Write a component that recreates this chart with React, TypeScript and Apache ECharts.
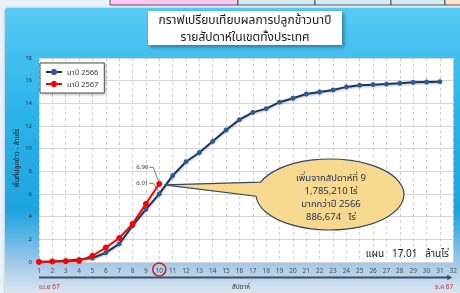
import React, { useEffect, useRef } from "react";
import * as echarts from "echarts";

const FONT = "'Noto Sans Thai', 'Noto Sans', Tahoma, sans-serif";

const titleLines = ["กราฟเปรียบเทียบผลการปลูกข้าวนาปี", "รายสัปดาห์ในเขตทั้งประเทศ"];
const seriesNames = ["นาปี 2566", "นาปี 2567"];
const weeks2566 = [1, 2, 3, 4, 5, 6, 7, 8, 9, 10, 11, 12, 13, 14, 15, 16, 17, 18, 19, 20, 21, 22, 23, 24, 25, 26, 27, 28, 29, 30, 31];
const values2566 = [0.02, 0.05, 0.1, 0.22, 0.35, 0.82, 1.6, 3.2, 4.65, 6.01, 7.62, 8.85, 9.66, 10.65, 11.65, 12.56, 13.2, 13.53, 14.1, 14.45, 14.82, 15.0, 15.18, 15.45, 15.6, 15.65, 15.7, 15.77, 15.85, 15.88, 15.91];
const weeks2567 = [1, 2, 3, 4, 5, 6, 7, 8, 9, 10];
const values2567 = [0.01, 0.05, 0.07, 0.1, 0.55, 1.27, 2.12, 3.36, 5.13, 6.9];
const labelTexts = ["6.90", "6.01"];
const calloutLines = ["เพิ่มจากสัปดาห์ที่ 9", "1,785,210 ไร่", "มากกว่าปี 2566", "886,674   ไร่"];
const planText = "แผน   17.01   ล้านไร่";
const yAxisName = "พื้นที่ปลูกข้าว - ล้านไร่";
const xAxisName = "สัปดาห์";
const startLabel = "เม.ย 67";
const endLabel = "ธ.ค 67";
const highlightWeek = 10;
const xMin = 1;
const xMax = 32;
const yMin = 0;
const yMax = 18;
const yStep = 2;

export default function App() {
  const ref = useRef<HTMLDivElement>(null);

  useEffect(() => {
    if (!ref.current) return;
    const chart = echarts.init(ref.current, null, { renderer: "svg" });

    const base: any = {
      animation: false,
      textStyle: { fontFamily: FONT },
      grid: { left: 39, right: 5, top: 58, bottom: 31, show: true, backgroundColor: "#ffffff", borderWidth: 0 },
      legend: {
        orient: "vertical",
        left: 40,
        top: 63,
        padding: [5, 6, 5, 5],
        itemWidth: 16,
        itemHeight: 8,
        itemGap: 4,
        backgroundColor: "#ffffff",
        borderColor: "#4a4a4a",
        borderWidth: 1,
        shadowBlur: 3,
        shadowColor: "rgba(0,0,0,0.3)",
        shadowOffsetX: 1,
        shadowOffsetY: 1,
        textStyle: { fontSize: 7.5, color: "#333", fontFamily: FONT },
        data: seriesNames,
      },
      xAxis: {
        type: "value",
        min: xMin,
        max: xMax,
        interval: 1,
        axisLine: { show: false },
        axisTick: { show: false },
        axisLabel: { fontSize: 6.5, color: "#4a4a4a", margin: 5 },
        splitLine: { show: true, lineStyle: { type: [3, 3], color: "#cccccc", width: 1 } },
      },
      yAxis: {
        type: "value",
        min: yMin,
        max: yMax,
        interval: yStep,
        axisLine: { show: false },
        axisTick: { show: false },
        axisLabel: { fontSize: 6, color: "#333", margin: 7 },
        splitLine: { show: true, lineStyle: { color: "#d4d4d4", width: 1 } },
      },
      series: [
        {
          name: seriesNames[0],
          type: "line",
          data: weeks2566.map((w, i) => [w, values2566[i]]),
          symbol: "circle",
          symbolSize: 5,
          lineStyle: { color: "#1d3657", width: 2, shadowBlur: 2, shadowColor: "rgba(0,0,0,0.3)", shadowOffsetY: 1 },
          itemStyle: { color: "#2d5b9a" },
          z: 2,
        },
        {
          name: seriesNames[1],
          type: "line",
          data: weeks2567.map((w, i) => [w, values2567[i]]),
          symbol: "circle",
          symbolSize: 6,
          lineStyle: { color: "#ff0000", width: 2 },
          itemStyle: { color: "#ff0000" },
          z: 3,
        },
      ],
    };
    chart.setOption(base);

    const px = (x: number, y: number) => chart.convertToPixel({ gridIndex: 0 }, [x, y]) as number[];
    const redP = px(highlightWeek, values2567[values2567.length - 1]);
    const blueP = px(highlightWeek, values2566[highlightWeek - 1]);
    const axisP = px(highlightWeek, yMin);
    const leftP = px(xMin, yMin);
    const rightP = px(xMax, yMin);

    // callout bubble
    const cx = 330, cy = 194.5, rx = 74, ry = 35.5;
    const tip = [redP[0] + 5, redP[1] + 1];
    const sA = -0.35, sB = 0.05;
    const ax = cx - rx * Math.sqrt(1 - sA * sA), ay = cy + ry * sA;
    const bx = cx - rx * Math.sqrt(1 - sB * sB), by = cy + ry * sB;
    const d = `M ${ax} ${ay} L ${tip[0]} ${tip[1]} L ${bx} ${by} A ${rx} ${ry} 0 1 0 ${ax} ${ay} Z`;
    echarts.graphic.registerShape("calloutBubble", echarts.graphic.extendPath(d, {}) as any);

    const labelY = axisP[1] + 7.5;
    const arrowY = axisP[1] + 15.5;

    const graphic: any[] = [
      { type: "rect", z: -20, shape: { x: 0, y: 0, width: 460, height: 293 }, style: { fill: "#e8f2fa" } },
      // header cells
      { type: "rect", z: -19, shape: { x: 110, y: -1, width: 128, height: 6 }, style: { fill: "#fcc9f4", stroke: "#333", lineWidth: 0.8 } },
      { type: "rect", z: -19, shape: { x: 238, y: -1, width: 77, height: 6 }, style: { fill: "#d6ecf4", stroke: "#333", lineWidth: 0.8 } },
      { type: "rect", z: -19, shape: { x: 315, y: -1, width: 76, height: 6 }, style: { fill: "#d6ecf4", stroke: "#333", lineWidth: 0.8 } },
      { type: "rect", z: -19, shape: { x: 391, y: -1, width: 54, height: 6 }, style: { fill: "#d6ecf4", stroke: "#333", lineWidth: 0.8 } },
      { type: "rect", z: -19, shape: { x: 445, y: -1, width: 20, height: 6 }, style: { fill: "#fde2cc", stroke: "#333", lineWidth: 0.8 } },
      {
        type: "rect",
        z: -15,
        shape: { x: 5, y: 8, width: 460, height: 290, r: 3 },
        style: {
          fill: new echarts.graphic.LinearGradient(0, 0, 0, 1, [
            { offset: 0, color: "#57caf4" },
            { offset: 0.35, color: "#2db4ea" },
            { offset: 0.7, color: "#1ea4de" },
            { offset: 0.8, color: "#62b8e6" },
            { offset: 0.89, color: "#a9cbe8" },
            { offset: 1, color: "#e2eaf2" },
          ]),
          shadowBlur: 3,
          shadowColor: "rgba(0,0,0,0.25)",
        },
      },
      // title box
      {
        type: "rect",
        z: 5,
        shape: { x: 148, y: 11, width: 194, height: 34 },
        style: { fill: "#ffffff", shadowBlur: 4, shadowColor: "rgba(0,0,0,0.4)", shadowOffsetX: 2, shadowOffsetY: 2 },
      },
      {
        type: "text",
        z: 6,
        x: 245,
        y: 28.5,
        style: { text: titleLines.join("\n"), fontSize: 12, lineHeight: 17, fill: "#1a1a1a", align: "center", verticalAlign: "middle", fontFamily: FONT },
      },
      // y axis name
      { type: "text", z: 6, x: 17, y: 158, rotation: Math.PI / 2, style: { text: yAxisName, fontSize: 7, fill: "#1a1a1a", align: "center", verticalAlign: "middle", fontFamily: FONT } },
      // plan text
      { type: "text", z: 6, x: 449, y: 254, style: { text: planText, fontSize: 10, fill: "#1a1a1a", align: "right", verticalAlign: "middle", fontFamily: FONT } },
      // callout
      { type: "calloutBubble", z: 10, x: 0, y: 0, style: { fill: "#f6d98f", stroke: "#34475e", lineWidth: 1.2 } },
      {
        type: "text",
        z: 11,
        x: 331,
        y: 197,
        style: { text: calloutLines.join("\n"), fontSize: 9.5, lineHeight: 13, fill: "#1f2d4a", align: "center", verticalAlign: "middle", fontFamily: FONT },
      },
      // value labels with leader lines
      { type: "text", z: 11, x: redP[0] - 11, y: redP[1] - 16.5, style: { text: labelTexts[0], fontSize: 6, fill: "#333", align: "right", verticalAlign: "middle", fontFamily: FONT } },
      { type: "polyline", z: 11, shape: { points: [[redP[0] - 10, redP[1] - 16.5], [redP[0] - 6, redP[1] - 16.5], [redP[0] - 1, redP[1] - 3]] }, style: { stroke: "#555", lineWidth: 0.8, fill: null } },
      { type: "text", z: 11, x: blueP[0] - 11, y: blueP[1] - 10.5, style: { text: labelTexts[1], fontSize: 6, fill: "#333", align: "right", verticalAlign: "middle", fontFamily: FONT } },
      { type: "polyline", z: 11, shape: { points: [[blueP[0] - 10, blueP[1] - 10.5], [blueP[0] - 6, blueP[1] - 10.5], [blueP[0] - 1, blueP[1] - 3]] }, style: { stroke: "#555", lineWidth: 0.8, fill: null } },
      // red circle around highlighted week label
      { type: "circle", z: 11, shape: { cx: axisP[0], cy: labelY, r: 6.5 }, style: { fill: null, stroke: "#d01818", lineWidth: 1.4 } },
      // arrow
      { type: "line", z: 6, shape: { x1: leftP[0], y1: arrowY, x2: rightP[0] - 4, y2: arrowY }, style: { stroke: "#3b4f66", lineWidth: 2.2 } },
      { type: "polygon", z: 6, shape: { points: [[rightP[0] - 1, arrowY], [rightP[0] - 6, arrowY - 2.8], [rightP[0] - 6, arrowY + 2.8]] }, style: { fill: "#3b4f66" } },
      { type: "text", z: 6, x: leftP[0], y: arrowY + 9, style: { text: startLabel, fontSize: 6.5, fill: "#d42a2a", align: "left", verticalAlign: "middle", fontFamily: FONT } },
      { type: "text", z: 6, x: rightP[0], y: arrowY + 9, style: { text: endLabel, fontSize: 6.5, fill: "#d42a2a", align: "right", verticalAlign: "middle", fontFamily: FONT } },
      { type: "text", z: 6, x: 241, y: arrowY + 9.5, style: { text: xAxisName, fontSize: 6.5, fill: "#333", align: "center", verticalAlign: "middle", fontFamily: FONT } },
    ];
    chart.setOption({ graphic });

    return () => chart.dispose();
  }, []);

  return <div ref={ref} style={{ position: "fixed", left: 0, top: 0, width: 460, height: 293 }} />;
}
